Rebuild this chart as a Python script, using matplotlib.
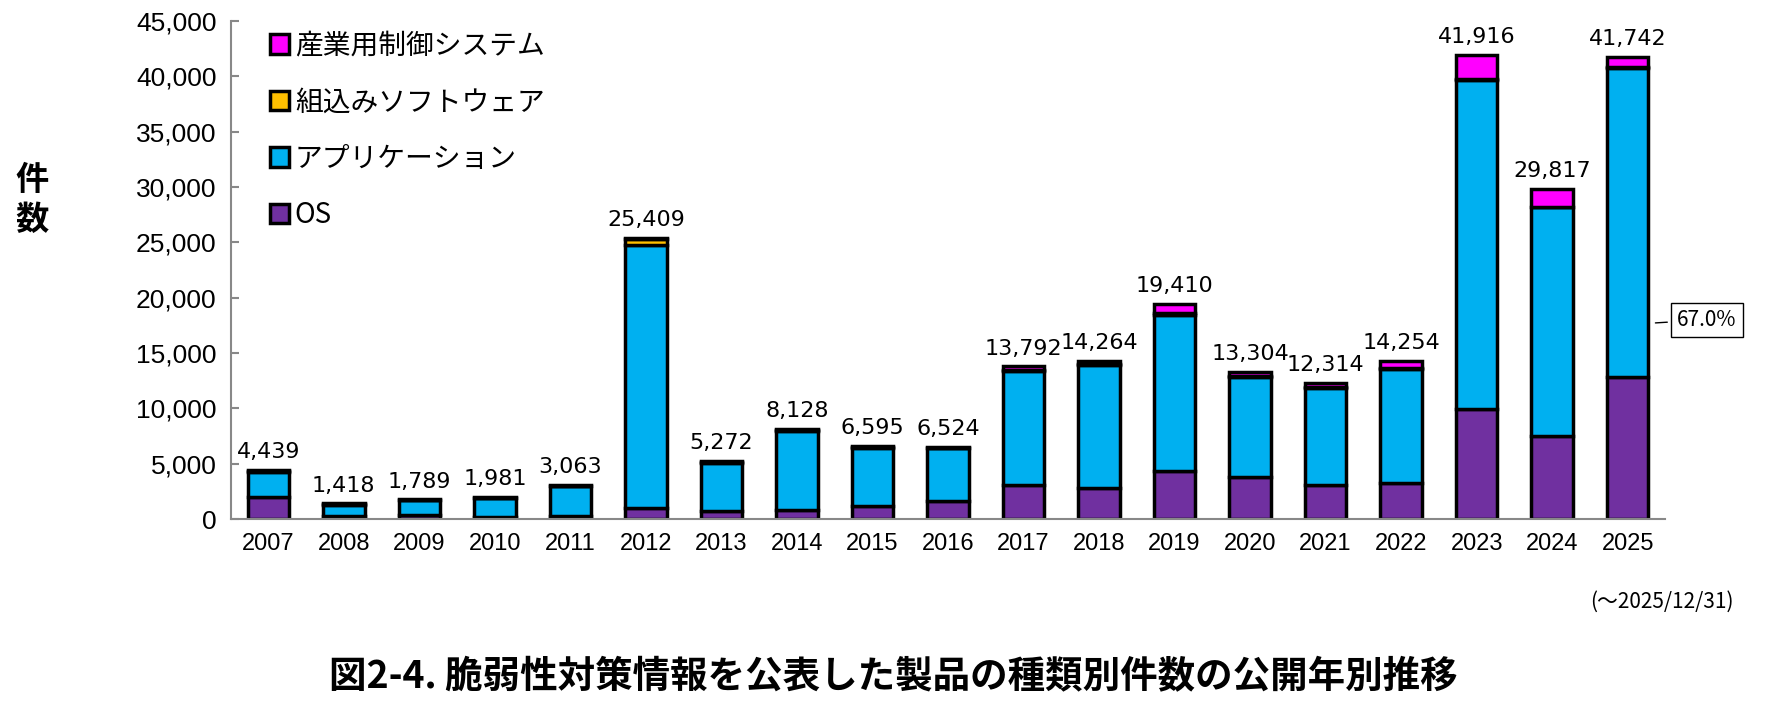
import matplotlib
matplotlib.use("Agg")
import matplotlib.pyplot as plt
import numpy as np

plt.rcParams['font.family'] = ['Noto Sans CJK JP', 'DejaVu Sans']

years = [str(y) for y in range(2007, 2026)]
totals = [4439, 1418, 1789, 1981, 3063, 25409, 5272, 8128, 6595, 6524, 13792, 14264, 19410, 13304, 12314, 14254, 41916, 29817, 41742]
os_vals = [2000, 300, 400, 200, 250, 1000, 700, 800, 1200, 1600, 3100, 2800, 4300, 3800, 3100, 3300, 9900, 7500, 12800]
emb_vals = [100, 60, 60, 60, 60, 600, 120, 100, 80, 80, 100, 60, 150, 100, 80, 80, 50, 50, 40]
ind_vals = [60, 40, 40, 40, 40, 80, 80, 60, 60, 60, 300, 300, 800, 400, 400, 600, 2200, 1600, 935]
app_vals = [t - o - e - i for t, o, e, i in zip(totals, os_vals, emb_vals, ind_vals)]

names = ['OS', 'アプリケーション', '組込みソフトウェア', '産業用制御システム']
colors = ['#7030A0', '#00B0F0', '#FFC000', '#FF00FF']
series = [os_vals, app_vals, emb_vals, ind_vals]

fig = plt.figure(figsize=(17.87, 7.16), dpi=100)
ax = fig.add_axes([0.129, 0.275, 0.803, 0.696])
x = np.arange(len(years))
bottom = np.zeros(len(years))
handles = []
for s, c, n in zip(series, colors, names):
    h = ax.bar(x, s, 0.55, bottom=bottom, color=c, edgecolor='black', linewidth=2.5, label=n)
    handles.append(h)
    bottom += np.array(s)

for xi, t in zip(x, totals):
    ax.text(xi, t + 700, f"{t:,}", ha='center', va='bottom', fontsize=16, family=['Liberation Sans Narrow', 'DejaVu Sans'])

ax.set_xlim(-0.5, len(years) - 0.5)
ax.set_ylim(0, 45000)
ax.set_yticks(range(0, 45001, 5000))
ax.set_yticklabels([f"{v:,}" for v in range(0, 45001, 5000)], fontsize=19, family=['Liberation Sans', 'DejaVu Sans'])
ax.set_xticks(x)
ax.set_xticklabels(years, fontsize=17, family=['Liberation Sans', 'DejaVu Sans'])
ax.tick_params(axis='y', direction='in', length=6, color='#888888', width=1.5, pad=10)
ax.tick_params(axis='x', length=0, pad=10)
for sp in ['top', 'right']:
    ax.spines[sp].set_visible(False)
for sp in ['left', 'bottom']:
    ax.spines[sp].set_color('#888888')
    ax.spines[sp].set_linewidth(1.5)

leg = ax.legend(handles[::-1], names[::-1], loc='upper left', bbox_to_anchor=(0.01, 1.03), frameon=False,
                fontsize=20, handlelength=0.7, handleheight=0.7, handletextpad=0.2, labelspacing=0.95)

fig.text(0.018, 0.72, '件\n数', fontsize=24, fontweight='bold', ha='center', va='center', linespacing=1.3)
fig.text(0.97, 0.16, '(～2025/12/31)', fontsize=15, ha='right', va='center')
fig.text(0.5, 0.055, '図2-4. 脆弱性対策情報を公表した製品の種類別件数の公開年別推移', fontsize=27, fontweight='bold', ha='center', va='center')

share = app_vals[-1] / totals[-1] * 100
ax.annotate(f"{share:.1f}%", xy=(18.33, 17700), xytext=(18.65, 18000), fontsize=15, ha='left', va='center',
            bbox=dict(boxstyle='square,pad=0.3', fc='white', ec='black', lw=1),
            arrowprops=dict(arrowstyle='-', color='black', lw=1), annotation_clip=False)

fig.savefig('out.png', dpi=100)
